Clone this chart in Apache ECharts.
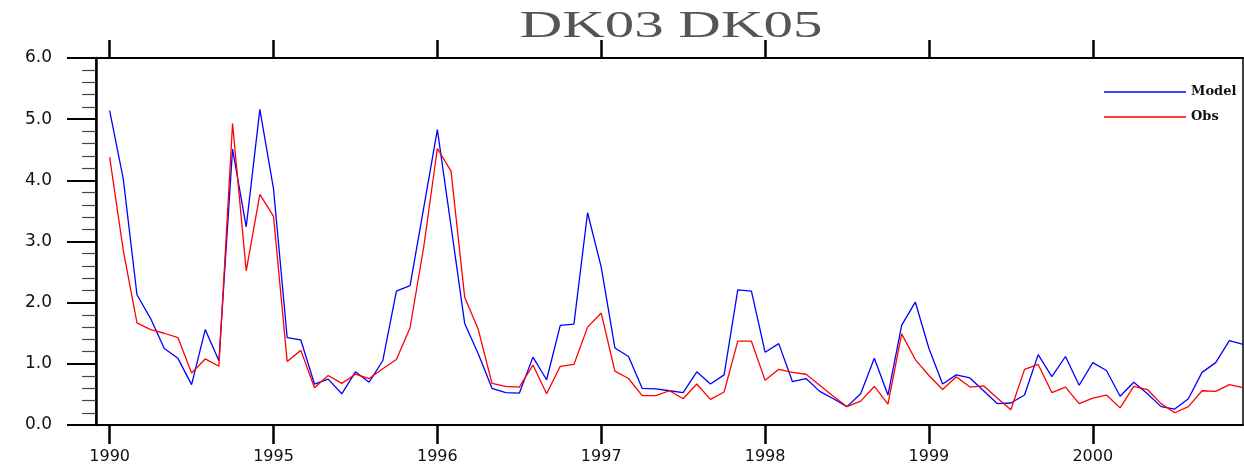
<!DOCTYPE html>
<html>
<head>
<meta charset="utf-8">
<script src="https://cdn.jsdelivr.net/npm/echarts@6/dist/echarts.min.js"></script>
<style>
  html, body { margin: 0; padding: 0; background: #fff; }
  #chart { width: 1244px; height: 466px; }
</style>
</head>
<body>
<div id="chart"></div>
<script>
// Monthly series, one value per month starting at the first tick
const modelValues = [
  5.14, 4.02, 2.13, 1.74, 1.25, 1.09, 0.66, 1.56, 1.05, 4.51, 3.24, 5.16,
  3.86, 1.43, 1.39, 0.67, 0.75, 0.51, 0.87, 0.70, 1.05, 2.19, 2.28, 3.55,
  4.83, 3.25, 1.66, 1.16, 0.60, 0.53, 0.52, 1.11, 0.74, 1.63, 1.65, 3.47,
  2.58, 1.26, 1.12, 0.60, 0.59, 0.56, 0.53, 0.87, 0.67, 0.82, 2.21, 2.19,
  1.19, 1.33, 0.71, 0.76, 0.55, 0.43, 0.30, 0.51, 1.09, 0.49, 1.63, 2.01,
  1.25, 0.67, 0.82, 0.77, 0.56, 0.35, 0.36, 0.49, 1.15, 0.79, 1.12, 0.65,
  1.02, 0.89, 0.47, 0.70, 0.51, 0.30, 0.26, 0.43, 0.86, 1.02, 1.38, 1.32
];
const obsValues = [
  4.38, 2.85, 1.67, 1.56, 1.50, 1.43, 0.85, 1.08, 0.96, 4.93, 2.52, 3.77,
  3.41, 1.04, 1.22, 0.61, 0.81, 0.68, 0.83, 0.76, 0.92, 1.07, 1.59, 2.91,
  4.52, 4.15, 2.09, 1.56, 0.68, 0.63, 0.62, 0.98, 0.51, 0.96, 0.99, 1.60,
  1.83, 0.88, 0.76, 0.48, 0.48, 0.56, 0.43, 0.67, 0.42, 0.54, 1.37, 1.37,
  0.73, 0.91, 0.86, 0.83, 0.65, 0.47, 0.30, 0.39, 0.63, 0.34, 1.49, 1.07,
  0.81, 0.58, 0.79, 0.62, 0.64, 0.44, 0.25, 0.91, 0.99, 0.53, 0.62, 0.35,
  0.44, 0.49, 0.28, 0.63, 0.58, 0.35, 0.20, 0.30, 0.56, 0.55, 0.66, 0.61
];
// Year ticks every 12 months and their labels
const tickMonths = [0, 12, 24, 36, 48, 60, 72];
const tickLabels = ['1990', '1995', '1996', '1997', '1998', '1999', '2000'];
const seriesNames = ['Model', 'Obs'];

const toPairs = vals => vals.map((v, i) => [i, v]);
const labelFor = v => {
  const k = tickMonths.indexOf(Math.round(v));
  return k >= 0 ? tickLabels[k] : '';
};

const chart = echarts.init(document.getElementById('chart'), null, { renderer: 'canvas' });

const option = {
  animation: false,
  backgroundColor: '#ffffff',
  graphic: [{
    type: 'text',
    x: 671,
    y: 27,
    scaleX: 1.55,
    style: {
      text: 'DK03 DK05',
      font: '38px "Liberation Serif", "DejaVu Serif", serif',
      fill: '#555555',
      textAlign: 'center',
      textVerticalAlign: 'middle'
    }
  }],
  legend: {
    data: seriesNames,
    orient: 'vertical',
    left: 1104,
    top: 84,
    padding: 0,
    itemGap: 9,
    itemWidth: 82,
    itemHeight: 1.4,
    icon: 'rect',
    textStyle: {
      fontFamily: '"DejaVu Serif", serif',
      fontWeight: 'bold',
      fontSize: 13,
      lineHeight: 16,
      color: '#111'
    }
  },
  grid: {
    left: 96,
    right: 1,
    top: 58,
    bottom: 41,
    show: true,
    borderColor: '#000',
    borderWidth: 1.5,
    backgroundColor: 'transparent'
  },
  xAxis: [{
    type: 'value',
    position: 'bottom',
    min: -1,
    max: 83,
    splitLine: { show: false },
    axisLine: { show: true, onZero: false, lineStyle: { color: '#000', width: 2 } },
    axisTick: {
      show: true,
      inside: false,
      length: 19,
      customValues: tickMonths,
      lineStyle: { color: '#000', width: 2.5 }
    },
    axisLabel: {
      show: true,
      margin: 24,
      customValues: tickMonths,
      formatter: labelFor,
      fontFamily: '"DejaVu Sans", sans-serif',
      fontSize: 16,
      color: '#111'
    }
  }, {
    type: 'value',
    position: 'top',
    min: -1,
    max: 83,
    splitLine: { show: false },
    axisLine: { show: true, onZero: false, lineStyle: { color: '#000', width: 2 } },
    axisTick: {
      show: true,
      inside: false,
      length: 18,
      customValues: tickMonths,
      lineStyle: { color: '#000', width: 2.5 }
    },
    axisLabel: { show: false }
  }],
  yAxis: {
    type: 'value',
    position: 'left',
    min: 0,
    max: 6,
    interval: 1,
    splitLine: { show: false },
    axisLine: { show: true, onZero: false, lineStyle: { color: '#000', width: 2.5 } },
    axisTick: {
      show: true,
      inside: false,
      length: 29,
      lineStyle: { color: '#000', width: 2 }
    },
    minorTick: {
      show: true,
      splitNumber: 5,
      length: 14,
      lineStyle: { color: '#444', width: 1.2 }
    },
    axisLabel: {
      margin: 44,
      formatter: v => v.toFixed(1),
      fontFamily: '"DejaVu Sans", sans-serif',
      fontSize: 17,
      color: '#111'
    }
  },
  series: [{
    name: seriesNames[0],
    type: 'line',
    data: toPairs(modelValues),
    symbol: 'none',
    lineStyle: { color: '#0000ff', width: 1.3 },
    itemStyle: { color: '#0000ff' }
  }, {
    name: seriesNames[1],
    type: 'line',
    data: toPairs(obsValues),
    symbol: 'none',
    lineStyle: { color: '#ff0000', width: 1.3 },
    itemStyle: { color: '#ff0000' }
  }]
};

chart.setOption(option);
</script>
</body>
</html>
